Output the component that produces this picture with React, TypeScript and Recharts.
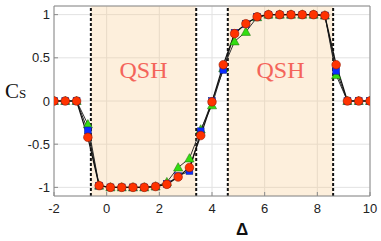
import {
  CartesianGrid,
  Label,
  Line,
  LineChart,
  ReferenceArea,
  ReferenceLine,
  XAxis,
  YAxis,
} from "recharts";

// Δ values of the samples
const deltas = [
  -2, -1.571, -1.143, -0.714, -0.286, 0.143, 0.571, 1, 1.429, 1.857, 2.286, 2.714, 3.143, 3.571, 4,
  4.429, 4.857, 5.286, 5.714, 6.143, 6.571, 7, 7.429, 7.857, 8.286, 8.714, 9.143, 9.571, 10,
];

const redValues = [
  0, 0, 0, -0.42, -0.98, -1, -1, -1, -1, -0.99, -0.965, -0.88, -0.77, -0.4, -0.01, 0.42, 0.78, 0.895,
  0.975, 1, 1, 1, 1, 1, 0.99, 0.42, 0, 0, 0,
];

const blueValues = [
  0, 0, 0, -0.34, -0.98, -1, -1, -1, -1, -0.99, -0.96, -0.87, -0.81, -0.35, 0, 0.36, 0.79, 0.89,
  0.975, 1, 1, 1, 1, 1, 0.99, 0.35, 0, 0, 0,
];

const greenValues = [
  0, 0, 0, -0.27, -0.98, -1, -1, -1, -1, -0.99, -0.94, -0.77, -0.665, -0.33, -0.05, 0.38, 0.69, 0.8,
  0.97, 1, 1, 1, 1, 1, 0.99, 0.3, 0, 0, 0,
];

const xTicks = [-2, 0, 2, 4, 6, 8, 10];
const yTicks = [-1, -0.5, 0, 0.5, 1];
const qshRegions = [
  [-0.6, 3.4],
  [4.6, 8.6],
];
const boundaries = [-0.6, 3.4, 4.6, 8.6];

const rows = deltas.map((x, i) => ({
  x,
  red: redValues[i],
  blue: blueValues[i],
  green: greenValues[i],
}));

const axisColor = "#8a8a8a";
const tickStyle = { fill: "#222", fontSize: 13, fontFamily: "Liberation Sans, Arial, sans-serif" };

const RedDot = (props: any) => {
  const { cx, cy, index } = props;
  if (cx == null || cy == null) return <g key={`r-${index}`} />;
  return <circle key={`r-${index}`} cx={cx} cy={cy} r={4.3} fill="#ff3300" stroke="#9a1800" strokeWidth={0.6} />;
};

const BlueDot = (props: any) => {
  const { cx, cy, index } = props;
  if (cx == null || cy == null) return <g key={`b-${index}`} />;
  return (
    <rect key={`b-${index}`} x={cx - 3.4} y={cy - 3.4} width={6.8} height={6.8} fill="#0a2cff" stroke="#061a80" strokeWidth={0.5} />
  );
};

const GreenDot = (props: any) => {
  const { cx, cy, index } = props;
  if (cx == null || cy == null) return <g key={`g-${index}`} />;
  const pts = `${cx},${cy - 4.8} ${cx - 4.6},${cy + 3.5} ${cx + 4.6},${cy + 3.5}`;
  return <polygon key={`g-${index}`} points={pts} fill="#33dd11" stroke="#1a6a08" strokeWidth={0.5} />;
};

export default function App() {
  return (
    <div style={{ position: "absolute", left: 0, top: 0 }}>
      <LineChart width={381} height={241} data={rows} margin={{ top: 5, right: 10, bottom: 0, left: 0 }}>
        {qshRegions.map(([a, b], i) => (
          <ReferenceArea
            key={`area-${i}`}
            x1={a}
            x2={b}
            fill="#f9c98a"
            fillOpacity={0.3}
            stroke="none"
            label={{
              value: "QSH",
              position: "insideTop",
              offset: 55,
              fill: "#f4645a",
              fontSize: 24,
              fontFamily: "Liberation Serif, serif",
            }}
          />
        ))}
        <CartesianGrid stroke="#e2e2e2" />
        <XAxis
          dataKey="x"
          type="number"
          domain={[-2, 10]}
          ticks={xTicks}
          height={45}
          tickSize={-4}
          tickMargin={12}
          stroke={axisColor}
          tick={tickStyle}
          allowDataOverflow
        >
          <Label
            value="Δ"
            position="insideBottom"
            offset={6}
            dx={30}
            fontSize={17}
            fontWeight="bold"
            fontFamily="Liberation Sans, Arial, sans-serif"
            fill="#111"
          />
        </XAxis>
        <XAxis
          xAxisId="top"
          orientation="top"
          dataKey="x"
          type="number"
          domain={[-2, 10]}
          ticks={xTicks}
          height={1}
          tickSize={-4}
          tick={false}
          stroke={axisColor}
          allowDataOverflow
        />
        <YAxis
          type="number"
          domain={[-1.1, 1.1]}
          ticks={yTicks}
          width={54}
          tickSize={-4}
          tickMargin={8}
          stroke={axisColor}
          tick={tickStyle}
          allowDataOverflow
        >
          <Label
            content={() => (
              <text x={5} y={98} fontFamily="Liberation Serif, serif" fill="#111">
                <tspan fontSize={21}>C</tspan>
                <tspan fontSize={13}>S</tspan>
              </text>
            )}
          />
        </YAxis>
        <YAxis
          yAxisId="right"
          orientation="right"
          type="number"
          domain={[-1.1, 1.1]}
          ticks={yTicks}
          width={1}
          tickSize={-4}
          tick={false}
          stroke={axisColor}
          allowDataOverflow
        />
        {boundaries.map((b) => (
          <ReferenceLine key={`b-${b}`} x={b} stroke="#111" strokeWidth={2} strokeDasharray="3 2" />
        ))}
        <Line
          xAxisId="top"
          yAxisId="right"
          dataKey="red"
          stroke="none"
          dot={false}
          activeDot={false}
          legendType="none"
          isAnimationActive={false}
        />
        <Line dataKey="green" stroke="#333" strokeWidth={1} dot={GreenDot} activeDot={false} isAnimationActive={false} />
        <Line dataKey="blue" stroke="#222" strokeWidth={1} dot={BlueDot} activeDot={false} isAnimationActive={false} />
        <Line dataKey="red" stroke="#111" strokeWidth={1.2} dot={RedDot} activeDot={false} isAnimationActive={false} />
      </LineChart>
    </div>
  );
}
